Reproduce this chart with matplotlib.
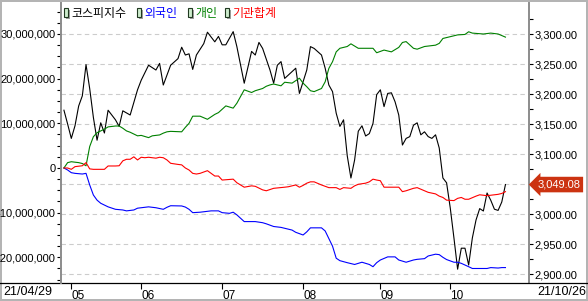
import matplotlib
matplotlib.use("Agg")
import matplotlib.pyplot as plt
from matplotlib.ticker import MultipleLocator, FixedLocator, FuncFormatter
from matplotlib.patches import Rectangle
from matplotlib.lines import Line2D

plt.rcParams['font.family'] = ['Liberation Sans', 'DejaVu Sans']
KR = ['Noto Sans CJK KR', 'DejaVu Sans']

# 거래일 인덱스 (0 = 21/04/29, 120 = 21/10/26)
first_day = '21/04/29'
last_day = '21/10/26'
month_pos = [2, 21, 43, 65, 86, 105]
month_labels = ['05', '06', '07', '08', '09', '10']

# 코스피지수 (오른쪽 축)
kospi_idx = [0, 1, 2, 3, 4, 5, 6, 7, 8, 9, 10, 11, 12, 14, 15, 16, 18, 20, 21, 23, 25, 26, 27,
             29, 31, 32, 33, 34, 35, 36, 38, 39, 41, 42, 43, 44, 46, 47, 49, 51, 52, 53, 54,
             56, 57, 58, 59, 60, 63, 64, 66, 67, 68, 70, 71, 72, 73, 74, 75, 76, 77, 78, 79,
             80, 81, 82, 83, 84, 85, 86, 87, 88, 89, 90, 91, 92, 93, 94, 95, 96, 97, 98, 99,
             100, 101, 102, 103, 104, 105, 106, 107, 108, 109, 110, 111, 112, 113, 114, 115,
             116, 117, 118, 119, 120]
kospi = [3173, 3150, 3126, 3147, 3180, 3197, 3249, 3209, 3161, 3123, 3152, 3135, 3173, 3157,
         3146, 3172, 3165, 3207, 3223, 3248, 3240, 3251, 3215, 3248, 3259, 3278, 3265, 3267,
         3241, 3265, 3284, 3303, 3287, 3296, 3282, 3282, 3304, 3279, 3218, 3271, 3265, 3286,
         3276, 3240, 3218, 3248, 3254, 3226, 3243, 3201, 3240, 3279, 3276, 3265, 3243, 3215,
         3204, 3168, 3146, 3157, 3097, 3060, 3090, 3138, 3147, 3130, 3134, 3151, 3199, 3207,
         3179, 3201, 3202, 3187, 3165, 3115, 3126, 3129, 3148, 3152, 3132, 3137, 3129, 3126,
         3132, 3110, 3060, 3052, 3010, 2960, 2908, 2943, 2943, 2915, 2960, 2990, 3009, 3005,
         3035, 3023, 3008, 3006, 3020, 3049.08]

# 누적 순매수 (왼쪽 축, 단위: 백만 x 1,000,000)
foreign_idx = [0, 1, 2, 3, 5, 6, 7, 8, 9, 10, 12, 14, 16, 17, 19, 20, 23, 25, 27, 28, 29, 32,
               33, 34, 35, 37, 38, 40, 42, 43, 45, 46, 47, 49, 52, 54, 55, 57, 59, 60, 62, 63,
               65, 66, 67, 70, 71, 73, 74, 75, 77, 79, 81, 83, 84, 85, 86, 88, 90, 91, 93, 95,
               96, 98, 99, 101, 102, 103, 104, 105, 106, 107, 108, 110, 111, 115, 116, 118,
               119, 120]
foreign = [0, -0.45, -1.05, -1.2, -1.35, -1.2, -3.8, -6.05, -7.2, -7.9, -8.7, -9.25, -9.4,
           -9.6, -9.4, -9.0, -8.7, -8.9, -9.25, -8.8, -8.45, -8.5, -8.75, -9.25, -10.0, -9.9,
           -9.8, -9.6, -9.6, -10.0, -10.15, -9.9, -10.5, -12.0, -12.0, -12.25, -12.5, -13.1,
           -13.3, -13.5, -13.9, -14.4, -15.0, -14.3, -13.4, -13.4, -14.1, -17.5, -20.2,
           -20.75, -21.2, -21.6, -21.1, -21.6, -22.1, -21.2, -20.6, -19.9, -19.9, -20.6,
           -21.1, -20.6, -20.45, -20.3, -19.7, -19.3, -19.4, -20.0, -20.5, -20.8, -21.1,
           -21.1, -21.35, -22.1, -22.5, -22.5, -22.3, -22.4, -22.3, -22.3]

person_idx = [0, 1, 2, 4, 5, 6, 7, 8, 9, 11, 12, 14, 15, 16, 17, 18, 20, 21, 23, 24, 26, 27,
              28, 29, 32, 33, 34, 35, 37, 39, 41, 42, 44, 46, 47, 48, 49, 51, 52, 54, 55, 56,
              57, 59, 60, 62, 64, 65, 66, 67, 68, 70, 71, 72, 73, 74, 75, 77, 78, 80, 84, 85,
              87, 89, 91, 92, 93, 95, 96, 98, 99, 101, 102, 103, 105, 107, 109, 110, 111, 114,
              116, 118, 120]
person = [0, 1.2, 1.4, 1.2, 1.0, 0.5, 4.8, 7.0, 7.9, 8.7, 9.2, 9.4, 9.4, 8.9, 8.3, 8.0, 7.2,
          7.3, 6.8, 7.2, 7.4, 7.8, 8.1, 8.2, 8.1, 9.1, 10.0, 11.6, 11.6, 10.9, 12.0, 12.4,
          13.9, 13.4, 14.5, 16.0, 17.5, 16.9, 17.3, 17.8, 18.3, 18.6, 18.8, 18.4, 19.2, 19.0,
          20.1, 19.0, 18.2, 17.3, 17.1, 17.8, 19.3, 22.3, 23.8, 26.0, 26.8, 27.2, 27.8, 26.8,
          26.8, 25.8, 26.4, 26.0, 27.0, 28.1, 28.3, 26.8, 26.6, 27.2, 27.3, 27.5, 27.9, 29.0,
          29.4, 29.8, 29.9, 30.5, 30.2, 30.0, 30.2, 30.0, 29.3]

inst_idx = [0, 1, 2, 3, 5, 6, 7, 8, 11, 12, 14, 15, 16, 17, 18, 19, 20, 21, 22, 23, 25, 26,
            27, 28, 29, 31, 32, 33, 34, 35, 36, 37, 39, 40, 41, 42, 43, 46, 47, 49, 51, 52,
            54, 55, 57, 60, 61, 63, 64, 65, 66, 67, 68, 70, 72, 74, 75, 76, 78, 79, 80, 82,
            83, 84, 85, 86, 87, 91, 92, 93, 95, 96, 98, 99, 101, 102, 103, 104, 106, 107,
            108, 109, 110, 112, 113, 115, 116, 118, 119, 120]
inst = [0, 0, -0.3, 0.3, 0.5, 1.2, -0.2, -0.3, -0.3, 0.45, 0.45, 0.5, 1.6, 1.95, 1.95, 2.5,
        1.8, 2.4, 2.3, 2.4, 2.2, 2.4, 2.3, 1.8, 1.05, 0.8, 0.7, 0.0, -0.45, -1.2, -1.35,
        -1.2, -0.6, -1.2, -1.8, -1.8, -2.7, -2.5, -3.3, -4.3, -4.0, -4.1, -4.9, -5.1, -4.55,
        -4.3, -4.2, -3.8, -4.3, -3.9, -3.4, -3.1, -3.1, -3.8, -4.4, -4.4, -4.8, -4.4, -4.55,
        -4.0, -3.65, -3.4, -3.1, -2.5, -2.7, -2.85, -4.3, -4.3, -5.3, -5.1, -4.55, -4.4,
        -5.1, -5.45, -5.8, -6.3, -6.6, -7.2, -7.3, -6.8, -6.6, -7.0, -7.0, -6.3, -6.0, -6.2,
        -6.1, -5.9, -5.7, -5.3]

series_names = ['코스피지수', '외국인', '개인', '기관합계']
series_colors = ['black', '#0000ff', '#008000', '#ff0000']

# 오른쪽 축 눈금 (3,050은 현재값 표시에 가려짐)
kospi_ticks = [2900, 2950, 3000, 3100, 3150, 3200, 3250, 3300]
kospi_minor = [2925, 2975, 3025, 3050, 3075, 3125, 3175, 3225, 3275, 3325]
flow_ticks = [-20e6, -10e6, 0, 10e6, 20e6, 30e6]

W, H = 588, 301


def fx(px):
    return px / W


def fy(py):
    return 1 - py / H


fig = plt.figure(figsize=(W / 100, H / 100), dpi=100)
fig.patch.set_edgecolor('#b4b4b4')
fig.patch.set_linewidth(1.5)

rect = [fx(61), fy(283), (529 - 61) / W, (283 - 3) / H]
ax = fig.add_axes(rect)
ax2 = ax.twinx()
ax.set_zorder(3)
ax.patch.set_visible(False)

# 오른쪽 축: 코스피
ax2.plot(kospi_idx, kospi, color=series_colors[0], lw=0.8)
ax2.set_ylim(2885, 3351.7)
ax2.yaxis.set_major_locator(FixedLocator(kospi_ticks))
ax2.yaxis.set_minor_locator(FixedLocator(kospi_minor))
ax2.yaxis.set_major_formatter(FuncFormatter(lambda v, p: f'{v:,.2f}'))
for y in kospi_ticks + [3050]:
    ax2.axhline(y, color='#cccccc', ls=(0, (4, 3)), lw=0.8, zorder=0)
ax2.tick_params(axis='y', which='both', direction='out', length=3, width=0.8,
                pad=1, labelsize=8, colors='black')

# 왼쪽 축: 수급
scale = 1e6
ax.plot(foreign_idx, [v * scale for v in foreign], color=series_colors[1], lw=0.8)
ax.plot(person_idx, [v * scale for v in person], color=series_colors[2], lw=0.8)
ax.plot(inst_idx, [v * scale for v in inst], color=series_colors[3], lw=0.8)
ax.set_ylim(-25.75e6, 36.94e6)
ax.set_xlim(-0.8, 126.4)
ax.yaxis.set_major_locator(FixedLocator(flow_ticks))
ax.yaxis.set_minor_locator(MultipleLocator(2.5e6))
ax.yaxis.set_major_formatter(FuncFormatter(lambda v, p: f'{v:,.0f}'))
ax.tick_params(axis='y', which='both', direction='out', length=3, width=0.8,
               pad=1, labelsize=8, colors='black')

ax.set_xticks(month_pos, month_labels)
ax.tick_params(axis='x', direction='out', length=4, width=0.8, pad=1, labelsize=8.5)
for lbl in ax.get_xticklabels():
    lbl.set_ha('left')

for a in (ax, ax2):
    for s in ('top', 'bottom'):
        a.spines[s].set_visible(False)
ax.spines['right'].set_visible(False)
ax2.spines['left'].set_visible(False)
ax.spines['left'].set_color('#8c8c8c')
ax.spines['left'].set_linewidth(1.4)
ax2.spines['right'].set_color('#8c8c8c')
ax2.spines['right'].set_linewidth(1.4)

# 아래 가로선 (그림 전체 폭)
fig.add_artist(Line2D([0, 1], [fy(283), fy(283)], color='black', lw=0.9,
                      transform=fig.transFigure))

# 현재값 표시
ax2.annotate(f'{kospi[-1]:,.2f}', xy=(1, kospi[-1]), xycoords=ax2.get_yaxis_transform(),
             xytext=(6, 0), textcoords='offset points', ha='left', va='center',
             color='white', fontsize=8, annotation_clip=False,
             bbox=dict(boxstyle='larrow,pad=0.25', fc='#cc3311', ec='none'))

# 범례
legend_x = [64, 137, 188, 225]
for name, color, x0 in zip(series_names, series_colors, legend_x):
    fig.add_artist(Rectangle((fx(x0 + 1.5), fy(19)), 4.5 / W, 9 / H, transform=fig.transFigure,
                             fc='#a0a0a0', ec='none'))
    fig.add_artist(Rectangle((fx(x0), fy(17)), 4 / W, 8.5 / H, transform=fig.transFigure,
                             fc='#cdeccd', ec='#203820', lw=0.8))
    fig.text(fx(x0 + 7), fy(13), name, color=color, fontsize=8.6, family=KR,
             ha='left', va='center')

# 기간 표시
fig.text(fx(3), fy(292), first_day, ha='left', va='center', fontsize=9)
fig.text(fx(586), fy(292), last_day, ha='right', va='center', fontsize=9)

fig.savefig('out.png', dpi=100)
